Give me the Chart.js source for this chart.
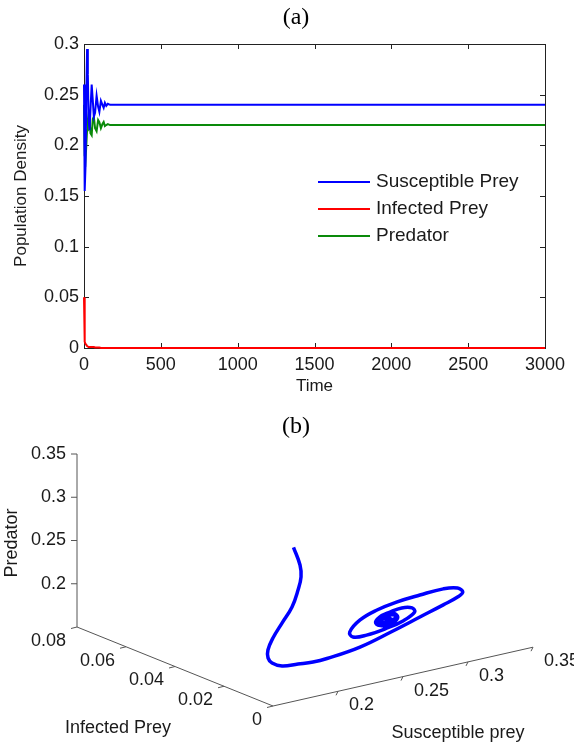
<!DOCTYPE html>
<html>
<head>
<meta charset="utf-8">
<title>Prey-predator dynamics</title>
<script src="https://cdn.jsdelivr.net/npm/chart.js@4.4.1/dist/chart.umd.min.js"></script>
<style>
    html, body { margin: 0; padding: 0; background: #fff; }
    canvas { display: block; }
</style>
</head>
<body>
<canvas id="timeChart" width="574" height="400"></canvas>
<canvas id="phaseChart" width="574" height="346"></canvas>
<script>
/*               data               */

// (a) population density over time
const time = [0, 3, 6, 10, 15, 20, 25, 30, 36, 42, 50, 57, 64, 72, 82, 92, 100, 110, 120, 128, 136, 145, 155, 170, 3000];
const susceptible = [0.26, 0.21, 0.155, 0.18, 0.25, 0.295, 0.27, 0.225, 0.215, 0.235, 0.26, 0.245, 0.228, 0.232, 0.249, 0.238, 0.233, 0.244, 0.24, 0.237, 0.242, 0.239, 0.241, 0.24, 0.24];
const infected = [0.05, 0.009, 0.006, 0.004, 0.003, 0.002, 0.002, 0.001, 0.001, 0.001, 0.001, 0.001, 0.001, 0.0005, 0.0005, 0.0005, 0.0005, 0, 0, 0, 0, 0, 0, 0, 0];
const predator = [0.24, 0.215, 0.19, 0.186, 0.2, 0.215, 0.225, 0.231, 0.226, 0.212, 0.21, 0.226, 0.228, 0.217, 0.214, 0.225, 0.223, 0.217, 0.221, 0.223, 0.219, 0.22, 0.221, 0.22, 0.22];
const timeTicks = [0, 500, 1000, 1500, 2000, 2500, 3000];
const densityTicks = [0, 0.05, 0.1, 0.15, 0.2, 0.25, 0.3];

// (b) trajectory in (S, I, P) space
const orbitS = [0.26, 0.2537, 0.2413, 0.2258, 0.2061, 0.1852, 0.1688, 0.1593, 0.1556, 0.1568, 0.1626, 0.173, 0.1836, 0.1934, 0.2188, 0.2432,
    0.263, 0.281, 0.292, 0.296, 0.292, 0.281, 0.263, 0.245, 0.23, 0.217, 0.209, 0.2115, 0.222, 0.238, 0.25, 0.259, 0.257, 0.249, 0.24,
    0.232, 0.229, 0.235, 0.242, 0.246, 0.242, 0.236, 0.2323, 0.2308, 0.2369, 0.2431, 0.2446, 0.24, 0.2354, 0.2331, 0.2377, 0.2408,
    0.2385, 0.2369, 0.2385];
const orbitI = [0.05, 0.044, 0.037, 0.03, 0.022, 0.015, 0.01, 0.007, 0.005, 0.004, 0.003, 0.002, 0.0015, 0.001, 0.001, 0.0005,
    0, 0, 0, 0, 0, 0, 0, 0, 0, 0, 0, 0, 0, 0, 0, 0, 0, 0, 0,
    0, 0, 0, 0, 0, 0, 0, 0, 0, 0, 0, 0, 0, 0, 0, 0, 0,
    0, 0, 0];
const orbitP = [0.239, 0.2275, 0.226, 0.2241, 0.2203, 0.2168, 0.2108, 0.2036, 0.198, 0.1928, 0.1885, 0.1884, 0.1877, 0.189, 0.1936, 0.2045,
    0.2145, 0.2224, 0.2277, 0.2321, 0.2381, 0.2409, 0.2399, 0.2379, 0.2338, 0.2267, 0.2154, 0.2088, 0.2075, 0.2103, 0.2143, 0.2216, 0.227, 0.2297, 0.228,
    0.2249, 0.219, 0.2137, 0.2146, 0.2202, 0.2262, 0.2247, 0.2214, 0.2174, 0.2165, 0.2189, 0.2219, 0.2246, 0.2227, 0.22, 0.2173, 0.2193,
    0.2217, 0.2199, 0.2205];
const sRange = [0.15, 0.35];
const iRange = [0, 0.08];
const pRange = [0.15, 0.35];
const sTicks = [0.2, 0.25, 0.3, 0.35];
const iTicks = [0, 0.02, 0.04, 0.06, 0.08];
const pTicks = [0.2, 0.25, 0.3, 0.35];

/*               shared bits               */

const SANS = "'Liberation Sans', Arial, sans-serif";
const SERIF = "'Liberation Serif', 'Times New Roman', serif";
Chart.defaults.font.family = SANS;
Chart.defaults.color = '#1a1a1a';

function panelLabel(text, x, y) {
    return {
        id: 'panelLabel',
        afterDraw(chart) {
            let ctx = chart.ctx;
            ctx.save();
            ctx.font = '24px ' + SERIF;
            ctx.fillStyle = '#000';
            ctx.textAlign = 'center';
            ctx.textBaseline = 'middle';
            ctx.fillText(text, x, y);
            ctx.restore();
        }
    };
}

/*               (a) time series               */

const toPoints = ys => time.map((t, k) => ({ x: t, y: ys[k] }));

// matlab style box with inward ticks on all four sides
const boxTicks = {
    id: 'boxTicks',
    beforeDatasetsDraw(chart) {
        const { ctx, chartArea: a, scales: { x, y } } = chart;
        ctx.save();
        ctx.strokeStyle = '#222';
        ctx.lineWidth = 1;
        ctx.strokeRect(a.left + 0.5, a.top + 0.5, a.right - a.left, a.bottom - a.top);
        ctx.beginPath();
        x.ticks.forEach(t => {
            const px = Math.round(x.getPixelForValue(t.value)) + 0.5;
            ctx.moveTo(px, a.bottom); ctx.lineTo(px, a.bottom - 5);
            ctx.moveTo(px, a.top); ctx.lineTo(px, a.top + 5);
        });
        y.ticks.forEach(t => {
            const py = Math.round(y.getPixelForValue(t.value)) + 0.5;
            ctx.moveTo(a.left, py); ctx.lineTo(a.left + 5, py);
            ctx.moveTo(a.right, py); ctx.lineTo(a.right - 5, py);
        });
        ctx.stroke();
        ctx.restore();
    }
};

// legend sits inside the plot, no frame
const insetLegend = {
    id: 'insetLegend',
    afterDatasetsDraw(chart) {
        let ctx = chart.ctx;
        ctx.save();
        ctx.font = '19px ' + SANS;
        ctx.textBaseline = 'middle';
        chart.data.datasets.forEach((ds, k) => {
            const yy = 182 + k * 27;
            ctx.strokeStyle = ds.borderColor;
            ctx.lineWidth = 2;
            ctx.beginPath();
            ctx.moveTo(318, yy);
            ctx.lineTo(370, yy);
            ctx.stroke();
            ctx.fillStyle = '#1a1a1a';
            ctx.fillText(ds.label, 376, yy);
        });
        ctx.restore();
    }
};

new Chart(document.getElementById('timeChart'), {
    type: 'line',
    data: {
        datasets: [
            { label: 'Susceptible Prey', data: toPoints(susceptible), borderColor: '#0000ff' },
            { label: 'Infected Prey', data: toPoints(infected), borderColor: '#ff0000' },
            { label: 'Predator', data: toPoints(predator), borderColor: '#0a8a0a' }
        ]
    },
    options: {
        responsive: false,
        animation: false,
        layout: { padding: { top: 44, right: 29 } },
        elements: { point: { radius: 0 }, line: { borderWidth: 2, tension: 0 } },
        datasets: { line: { clip: false } },
        plugins: { legend: { display: false }, tooltip: { enabled: false } },
        scales: {
            x: {
                type: 'linear', min: 0, max: 3000,
                afterBuildTicks: s => { s.ticks = timeTicks.map(v => ({ value: v })); },
                afterFit: s => { s.height = 52; },
                grid: { display: false, drawTicks: false },
                border: { display: false },
                ticks: { font: { size: 18 }, padding: 6, maxRotation: 0, autoSkip: false, callback: v => String(v) },
                title: { display: true, text: 'Time', font: { size: 17 }, padding: { top: 0, bottom: 3 } }
            },
            y: {
                min: 0, max: 0.3,
                afterBuildTicks: s => { s.ticks = densityTicks.map(v => ({ value: v })); },
                afterFit: s => { s.width = 84; },
                grid: { display: false, drawTicks: false },
                border: { display: false },
                ticks: { font: { size: 18 }, padding: 5, callback: v => String(v) },
                title: { display: true, text: 'Population Density', font: { size: 17 }, padding: { top: 11, bottom: 0 } }
            }
        }
    },
    plugins: [boxTicks, insetLegend, panelLabel('(a)', 296, 18)]
});

/*               (b) phase portrait               */

// fixed oblique view: S runs right and slightly up, I runs back to the left, P goes up
const view = { ox: 273, oy: 306, sx: 1300, sy: -294, ix: -2450, iy: -987.5, pz: -865 };

function project(s, i, p) {
    return {
        x: view.ox + view.sx * (s - sRange[0]) + view.ix * (i - iRange[0]),
        y: view.oy + view.sy * (s - sRange[0]) + view.iy * (i - iRange[0]) + view.pz * (p - pRange[0])
    };
}

const phaseAxes = {
    id: 'phaseAxes',
    beforeDatasetsDraw(chart) {
        const { ctx, scales: { x, y } } = chart;
        const at = (s, i, p) => {
            const q = project(s, i, p);
            return { x: x.getPixelForValue(q.x), y: y.getPixelForValue(q.y) };
        };
        const seg = (a, b) => { ctx.moveTo(a.x, a.y); ctx.lineTo(b.x, b.y); };

        ctx.save();
        ctx.strokeStyle = '#555';
        ctx.lineWidth = 1;
        ctx.beginPath();
        seg(at(sRange[0], iRange[0], pRange[0]), at(sRange[1], iRange[0], pRange[0]));
        seg(at(sRange[0], iRange[0], pRange[0]), at(sRange[0], iRange[1], pRange[0]));
        seg(at(sRange[0], iRange[1], pRange[0]), at(sRange[0], iRange[1], pRange[1]));
        sTicks.forEach(v => { const q = at(v, iRange[0], pRange[0]); seg(q, { x: q.x - 2, y: q.y + 4 }); });
        iTicks.forEach(v => { const q = at(sRange[0], v, pRange[0]); seg(q, { x: q.x - 6, y: q.y + 1.5 }); });
        pTicks.forEach(v => { const q = at(sRange[0], iRange[1], v); seg(q, { x: q.x - 6, y: q.y }); });
        ctx.stroke();

        ctx.fillStyle = '#1a1a1a';
        ctx.font = '18px ' + SANS;
        ctx.textBaseline = 'middle';
        ctx.textAlign = 'left';
        sTicks.forEach(v => { const q = at(v, iRange[0], pRange[0]); ctx.fillText(String(v), q.x + 11, q.y + 14); });
        ctx.textAlign = 'right';
        iTicks.forEach(v => { const q = at(sRange[0], v, pRange[0]); ctx.fillText(String(v), q.x - 11, q.y + 14); });
        pTicks.forEach(v => { const q = at(sRange[0], iRange[1], v); ctx.fillText(String(v), q.x - 11, q.y); });

        ctx.textAlign = 'center';
        ctx.fillText('Susceptible prey', 458, 333);
        ctx.fillText('Infected Prey', 118, 328);
        ctx.translate(12, 143);
        ctx.rotate(-Math.PI / 2);
        ctx.fillText('Predator', 0, 0);
        ctx.restore();
    }
};

new Chart(document.getElementById('phaseChart'), {
    type: 'scatter',
    data: {
        datasets: [{
            label: 'trajectory',
            data: orbitS.map((s, k) => project(s, orbitI[k], orbitP[k])),
            showLine: true,
            borderColor: '#0000ff',
            borderWidth: 3.5,
            pointRadius: 0,
            tension: 0.4,
            clip: false
        }]
    },
    options: {
        responsive: false,
        animation: false,
        layout: { padding: 0 },
        plugins: { legend: { display: false }, tooltip: { enabled: false } },
        scales: {
            x: { type: 'linear', display: false, min: 0, max: 574 },
            y: { type: 'linear', display: false, min: 0, max: 346, reverse: true }
        }
    },
    plugins: [phaseAxes, panelLabel('(b)', 296, 27)]
});
</script>
</body>
</html>
